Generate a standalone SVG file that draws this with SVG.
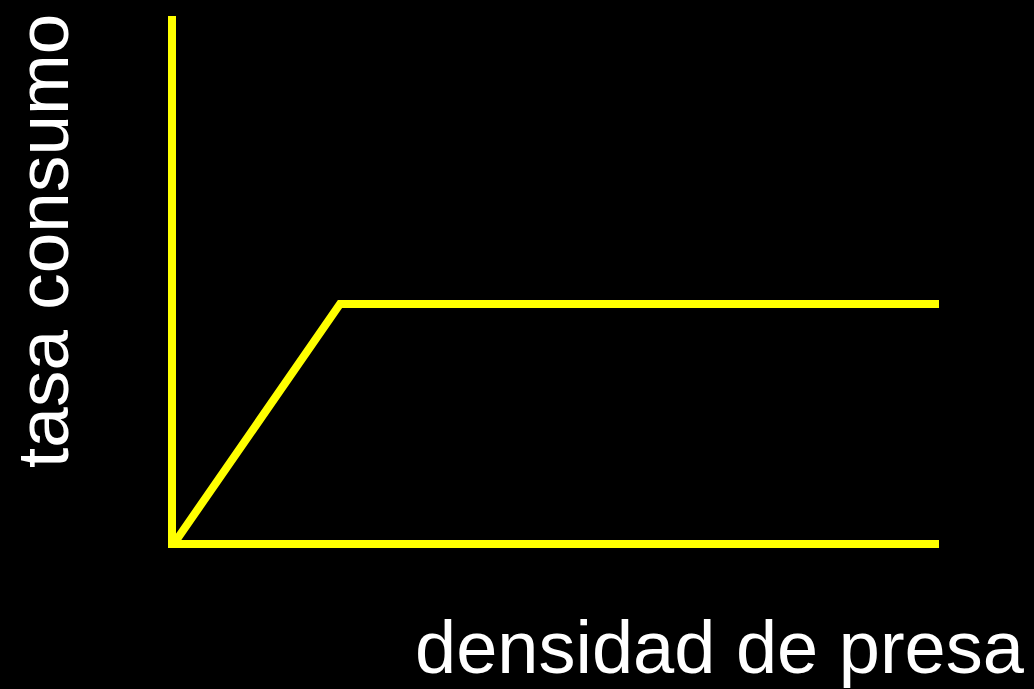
<svg xmlns="http://www.w3.org/2000/svg" width="1034" height="689" viewBox="0 0 1034 689">
<style>
.ax{stroke:#ffff00;stroke-width:8;fill:none}
.lbl{fill:#ffffff;font-family:"Liberation Sans",Arial,sans-serif;font-size:73px}
</style>
<rect width="1034" height="689" fill="#000000"/>
<g id="connectors">
<line class="ax" x1="172" y1="16" x2="172" y2="548"/>
<line class="ax" x1="172" y1="544" x2="939" y2="544"/>
<polyline class="ax" points="173,545 340,304 939,304" stroke-linejoin="miter"/>
</g>
<g id="ylabel"><text class="lbl" transform="translate(68,468) rotate(-90)">tasa consumo</text></g>
<g id="xlabel"><text class="lbl" x="415" y="673" style="font-size:74px">densidad de presa</text></g>
</svg>
